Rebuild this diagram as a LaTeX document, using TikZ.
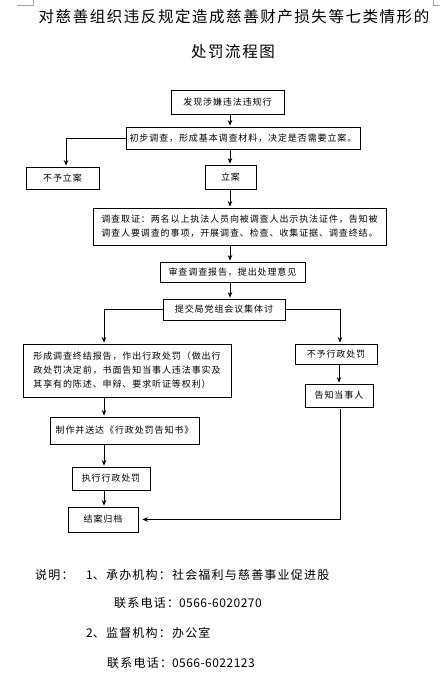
\documentclass[tikz,border=0pt]{standalone}
\usepackage{fontspec}
\setmainfont{Noto Sans CJK SC}
\newfontfamily\boxfamily[LetterSpace=10]{Noto Sans CJK SC}
\newfontfamily\titlefamily[LetterSpace=10]{Noto Sans CJK SC}
\newfontfamily\footfamily[LetterSpace=10]{Noto Sans CJK SC}
\newfontfamily\digitfamily[LetterSpace=4]{Noto Sans CJK SC}
\usetikzlibrary{arrows.meta,calc}
\newcommand\bxfont{\boxfamily\fontsize{9pt}{14pt}\selectfont}
\newcommand\ttlfont{\titlefamily\fontsize{15.5pt}{20pt}\selectfont}
\newcommand\ftfont{\footfamily\fontsize{12pt}{16pt}\selectfont}
\newcommand\dg[1]{{\digitfamily\fontsize{12pt}{16pt}\selectfont #1}}
\tikzset{
  bx/.style n args={2}{draw, line width=0.8pt, minimum width=#1pt, minimum height=#2pt, inner sep=0pt, font=\bxfont},
  mbx/.style n args={2}{bx={#1}{#2}, align=left},
  arr/.style={draw, line width=0.8pt, -{Stealth[length=5.5pt,width=4.5pt]}, shorten >=1pt},
  ttl/.style={font=\ttlfont, inner sep=0pt},
  ft/.style={font=\ftfont, inner sep=0pt, anchor=west},
  corner/.style={draw=black!35, line width=0.5pt}
}
\begin{document}
\begin{tikzpicture}[x=1pt,y=-1pt]
\useasboundingbox (0,0) rectangle (440,674);
\fill[white] (0,0) rectangle (440,674);
% page corner marks
\draw[corner] (17,5) -- (33,5) -- (33,0);
\draw[corner] (440,5) -- (433,5) -- (433,0);
% title
\node[ttl] (t1) at (234,17) {对慈善组织违反规定造成慈善财产损失等七类情形的};
\node[ttl] (t2) at (233,52) {处罚流程图};
% boxes
\node[bx={113}{24}] (fx) at (227.5,102) {发现涉嫌违法违规行};
\node[bx={234}{22}] (cb) at (243,138) {初步调查，形成基本调查材料，决定是否需要立案。};
\node[bx={73}{22}] (byla) at (62.5,178) {不予立案};
\node[bx={51}{24}] (la) at (230.5,177) {立案};
\node[mbx={293}{37}] (dc) at (239.5,226.5) {调查取证：两名以上执法人员向被调查人出示执法证件，告知被\\调查人要调查的事项，开展调查、检查、收集证据、调查终结。};
\node[bx={145}{20}] (sc) at (232.5,272) {审查调查报告，提出处理意见};
\node[bx={122}{21}] (tj) at (224,309.5) {提交局党组会议集体讨};
\node[mbx={208}{53}] (xc) at (127,370.5) {形成调查终结报告，作出行政处罚（做出行\\政处罚决定前，书面告知当事人违法事实及\\其享有的陈述、申辩、要求听证等权利）};
\node[bx={82}{20}] (bycf) at (336,354) {不予行政处罚};
\node[bx={68}{23}] (gz) at (339,395.5) {告知当事人};
\node[bx={149}{27}] (zz) at (124.5,430.5) {制作并送达《行政处罚告知书》};
\node[bx={78}{23}] (zx) at (111,478.5) {执行行政处罚};
\node[bx={70}{25}] (ja) at (103,519.5) {结案归档};
% connector guide coordinates
\coordinate (mx) at (230,0);
\coordinate (lx) at (104,0);
\coordinate (rx) at (340,0);
\coordinate (bx0) at (66,0);
% connectors
\draw[arr] (fx.south -| mx) -- (cb.north -| mx);
\draw[arr] (cb.west) -| (byla.north -| bx0);
\draw[arr] (cb.south -| mx) -- (la.north -| mx);
\draw[arr] (la.south -| mx) -- (dc.north -| mx);
\draw[arr] (dc.south -| mx) -- (sc.north -| mx);
\draw[arr] (sc.south -| mx) -- (tj.north -| mx);
\draw[arr] (tj.west) -| (xc.north -| lx);
\draw[arr] (tj.east) -| (bycf.north -| rx);
\draw[arr] (bycf.south -| gz.north) -- (gz.north);
\draw[arr] (xc.south -| lx) -- (zz.north -| lx);
\draw[arr] (zz.south -| lx) -- (zx.north -| lx);
\draw[arr] (zx.south -| lx) -- (ja.north -| lx);
\draw[arr, shorten <=2pt, shorten >=4pt] (gz.south -| rx) |- (ja.east);
% notes
\node[ft] (sm) at (35,575) {说明：};
\node[ft] (n1) at (86,575) {\dg{1}、承办机构：社会福利与慈善事业促进股};
\node[ft] (p1) at (114,603) {联系电话：\dg{0566-6020270}};
\node[ft] (n2) at (86,633) {\dg{2}、监督机构：办公室};
\node[ft] (p2) at (107,663) {联系电话：\dg{0566-6022123}};
\end{tikzpicture}
\end{document}
